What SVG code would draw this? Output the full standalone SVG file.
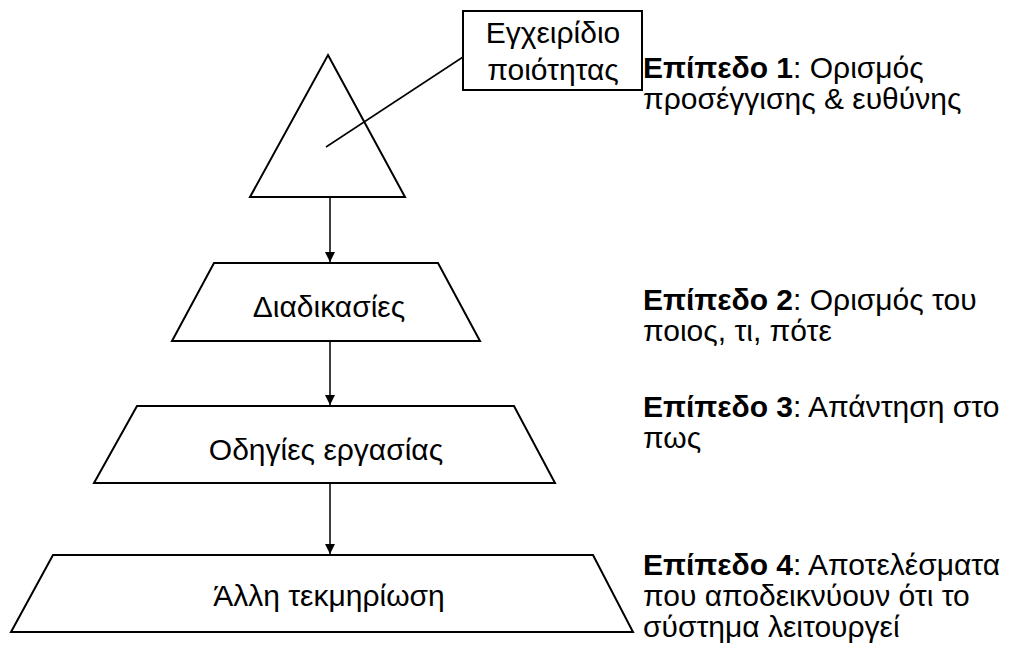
<svg xmlns="http://www.w3.org/2000/svg" width="1010" height="649" viewBox="0 0 1010 649">
<defs>
<style>
.s{fill:#fff;stroke:#000;stroke-width:2}
.t{font-family:"Liberation Sans",Arial,sans-serif;font-size:30px;fill:#000}
.c{text-anchor:middle}
.b{font-weight:bold}
.ln{stroke:#000;stroke-width:1.5;fill:none}
</style>
<marker id="ah" markerWidth="10" markerHeight="10" refX="10" refY="5" orient="auto" markerUnits="userSpaceOnUse">
<path d="M0,0 L10,5 L0,10 z" fill="#000"/>
</marker>
</defs>
<rect width="1010" height="649" fill="#fff"/>
<g id="triangle">
<polygon class="s" points="328,55 405,197 250,197"/>
</g>
<g id="callout">
<rect class="s" x="463" y="11" width="179" height="79"/>
<text class="t c" x="553" y="43">Εγχειρίδιο</text>
<text class="t c" x="553" y="80">ποιότητας</text>
</g>
<g id="level1">
<text class="t" x="643" y="78"><tspan class="b">Επίπεδο 1</tspan>: Ορισμός</text>
<text class="t" x="643" y="109">προσέγγισης &amp; ευθύνης</text>
</g>
<g id="procedures">
<polygon class="s" points="214,263 438,263 480,341 172,341"/>
<text class="t c" x="329" y="317">Διαδικασίες</text>
</g>
<g id="level2">
<text class="t" x="643" y="310"><tspan class="b">Επίπεδο 2</tspan>: Ορισμός του</text>
<text class="t" x="643" y="341">ποιος, τι, πότε</text>
</g>
<g id="instructions">
<polygon class="s" points="137,406 514,406 555,483 94,483"/>
<text class="t c" x="326" y="460">Οδηγίες εργασίας</text>
</g>
<g id="level3">
<text class="t" x="643" y="417"><tspan class="b">Επίπεδο 3</tspan>: Απάντηση στο</text>
<text class="t" x="643" y="448">πως</text>
</g>
<g id="other">
<polygon class="s" points="53,555 593,555 633,632 11,632"/>
<text class="t c" x="329" y="606">Άλλη τεκμηρίωση</text>
</g>
<g id="level4">
<text class="t" x="643" y="575"><tspan class="b">Επίπεδο 4</tspan>: Αποτελέσματα</text>
<text class="t" x="643" y="606">που αποδεικνύουν ότι το</text>
<text class="t" x="643" y="637">σύστημα λειτουργεί</text>
</g>
<g id="connectors">
<line class="ln" x1="463" y1="57" x2="326" y2="147"/>
<line class="ln" x1="330" y1="197" x2="330" y2="262" marker-end="url(#ah)"/>
<line class="ln" x1="330" y1="341" x2="330" y2="405" marker-end="url(#ah)"/>
<line class="ln" x1="330" y1="483" x2="330" y2="554" marker-end="url(#ah)"/>
</g>
</svg>
